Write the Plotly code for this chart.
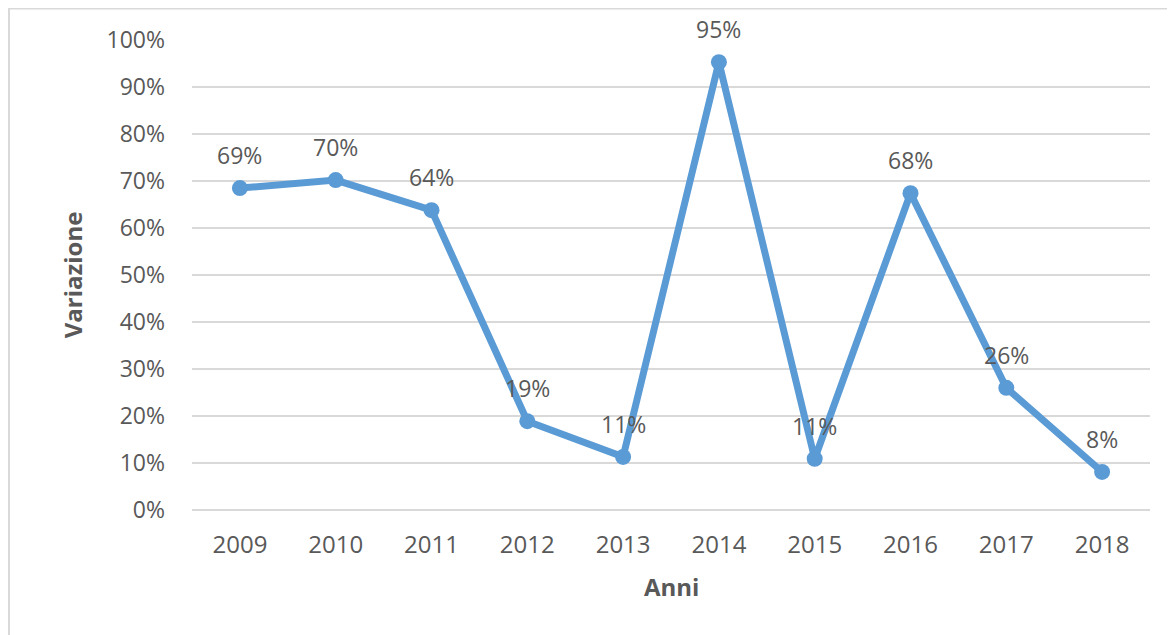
import plotly.graph_objects as go

# dati
anni = ['2009', '2010', '2011', '2012', '2013', '2014', '2015', '2016', '2017', '2018']
variazione = [0.685, 0.702, 0.638, 0.189, 0.113, 0.953, 0.109, 0.674, 0.26, 0.081]
etichette = ['69%', '70%', '64%', '19%', '11%', '95%', '11%', '68%', '26%', '8%']

grigio = '#595959'
blu = '#5B9BD5'
font_fam = 'Open Sans, Liberation Sans, Arial'

fig = go.Figure()

fig.add_trace(go.Scatter(x=anni, y=variazione, mode='lines+markers',
                         line=dict(color=blu, width=7),
                         marker=dict(color=blu, size=16),
                         cliponaxis=False, showlegend=False))

# etichette sopra i punti (x come indice di categoria)
for i, (v, t) in enumerate(zip(variazione, etichette)):
    fig.add_annotation(x=i, y=v, text=t, showarrow=False, yshift=33,
                       font=dict(size=23, color=grigio, family=font_fam))

# titoli assi
fig.add_annotation(xref='paper', yref='paper', x=0.501, y=-0.163, yanchor='middle',
                   xanchor='center', text='<b>Anni</b>',
                   showarrow=False, font=dict(size=24, color=grigio, family=font_fam))
fig.add_annotation(xref='paper', yref='paper', x=-0.125, y=0.5, xanchor='center',
                   yanchor='middle', text='<b>Variazione</b>',
                   textangle=-90, showarrow=False,
                   font=dict(size=24, color=grigio, family=font_fam))

# bordo del grafico
fig.add_shape(type='line', xref='paper', yref='paper', x0=-0.1915, x1=-0.1915, y0=1.068, y1=-0.35,
              line=dict(color='#d9d9d9', width=3))
fig.add_shape(type='line', xref='paper', yref='paper', x0=-0.1915, x1=1.1, y0=1.068, y1=1.068,
              line=dict(color='#d9d9d9', width=3))

fig.update_layout(
    width=1175, height=635,
    margin=dict(l=184, r=33, t=32, b=133),
    paper_bgcolor='white', plot_bgcolor='white',
    font=dict(family=font_fam, color=grigio, size=23),
)
fig.update_xaxes(type='category', range=[-0.5, 9.5], showgrid=False, zeroline=False,
                 showline=False, ticks='', ticklabelstandoff=18,
                 tickfont=dict(size=24, color=grigio))
fig.update_yaxes(range=[0, 1.0001], dtick=0.1, tickformat='.0%', showgrid=True,
                 gridcolor='#d9d9d9', gridwidth=2, zeroline=True, zerolinecolor='#d9d9d9',
                 zerolinewidth=2, showline=False, ticks='', ticklabelstandoff=26,
                 tickfont=dict(size=23, color=grigio))

fig.write_html("out.html")
